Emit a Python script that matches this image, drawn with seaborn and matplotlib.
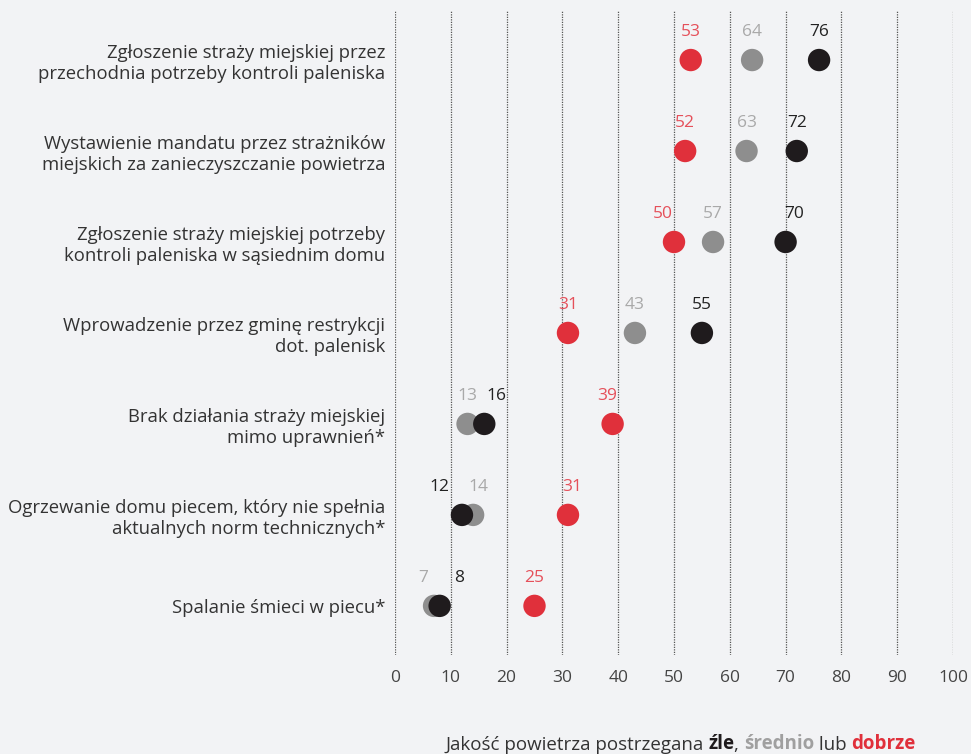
import matplotlib.pyplot as plt
import seaborn as sns
import pandas as pd

sns.set_style("white")
plt.rcParams["font.family"] = ["Open Sans", "DejaVu Sans"]

categories = [
    "Zgłoszenie straży miejskiej przez\nprzechodnia potrzeby kontroli paleniska",
    "Wystawienie mandatu przez strażników\nmiejskich za zanieczyszczanie powietrza",
    "Zgłoszenie straży miejskiej potrzeby\nkontroli paleniska w sąsiednim domu",
    "Wprowadzenie przez gminę restrykcji\ndot. palenisk",
    "Brak działania straży miejskiej\nmimo uprawnień*",
    "Ogrzewanie domu piecem, który nie spełnia\naktualnych norm technicznych*",
    "Spalanie śmieci w piecu*",
]
zle = [76, 72, 70, 55, 16, 12, 8]
srednio = [64, 63, 57, 43, 13, 14, 7]
dobrze = [53, 52, 50, 31, 39, 31, 25]
series_names = ["średnio", "dobrze", "źle"]
xticks = [0, 10, 20, 30, 40, 50, 60, 70, 80, 90, 100]

BG = "#f2f3f5"
dot_colors = {"średnio": "#8e8e8e", "dobrze": "#e0303b", "źle": "#1f1b1d"}
label_colors = {"średnio": "#a9a9a9", "dobrze": "#e5505a", "źle": "#222222"}
# horizontal nudges (points) for value labels that would collide
nudges = {(2, "dobrze"): -8, (2, "źle"): 6, (4, "źle"): 9, (4, "dobrze"): -4,
          (5, "źle"): -16, (5, "średnio"): 4, (5, "dobrze"): 3,
          (6, "średnio"): -8, (6, "źle"): 14}

rows = []
for name, vals in zip(series_names, [srednio, dobrze, zle]):
    for i, v in enumerate(vals):
        rows.append({"row": i, "value": v, "series": name})
df = pd.DataFrame(rows)

fig = plt.figure(figsize=(9.71, 7.54), dpi=100, facecolor=BG)
ax = fig.add_axes([395 / 971, 1 - 655 / 754, 558 / 971, 645 / 754])
ax.set_facecolor(BG)

sns.scatterplot(data=df, x="value", y="row", hue="series", palette=dot_colors,
                s=260, linewidth=0, legend=False, ax=ax, zorder=3)

for _, r in df.iterrows():
    dx = nudges.get((r["row"], r["series"]), 0)
    ax.annotate(str(r["value"]), (r["value"], r["row"]), xytext=(dx, 20),
                textcoords="offset points", ha="center", va="center",
                fontsize=12.5, color=label_colors[r["series"]])

ax.set_xlim(0, 100)
ax.set_ylim(6.54, -0.55)
ax.set_xticks(xticks)
ax.set_xticklabels([str(t) for t in xticks], fontsize=12.5, color="#444444")
ax.set_yticks(range(len(categories)))
ax.set_yticklabels(categories, fontsize=13.3, color="#333333", linespacing=1.2)
ax.tick_params(axis="both", length=0)
ax.tick_params(axis="x", pad=11)
ax.tick_params(axis="y", pad=7)
for x in xticks:
    ax.axvline(x, color="#555555", linestyle=(0, (1, 1)), linewidth=0.9, zorder=1)
for s in ax.spines.values():
    s.set_visible(False)
ax.set_xlabel("")
ax.set_ylabel("")

# legend line at the bottom with coloured bold words
parts = [("Jakość powietrza postrzegana ", "#333333", "normal"),
         ("źle", "#1f1b1d", "bold"),
         (", ", "#333333", "normal"),
         ("średnio", "#a0a0a0", "bold"),
         (" lub ", "#333333", "normal"),
         ("dobrze", "#e0303b", "bold")]
t = fig.text(445 / 971, 1 - 745 / 754, parts[0][0], fontsize=13.5,
             color=parts[0][1], fontweight=parts[0][2], va="center", ha="left")
for txt, col, w in parts[1:]:
    t = ax.annotate(txt, xy=(1, 0), xycoords=t, xytext=(0, 0),
                    textcoords="offset points", va="bottom", ha="left",
                    fontsize=13.5, color=col, fontweight=w, annotation_clip=False)

fig.savefig("out.png", dpi=100, facecolor=BG)
